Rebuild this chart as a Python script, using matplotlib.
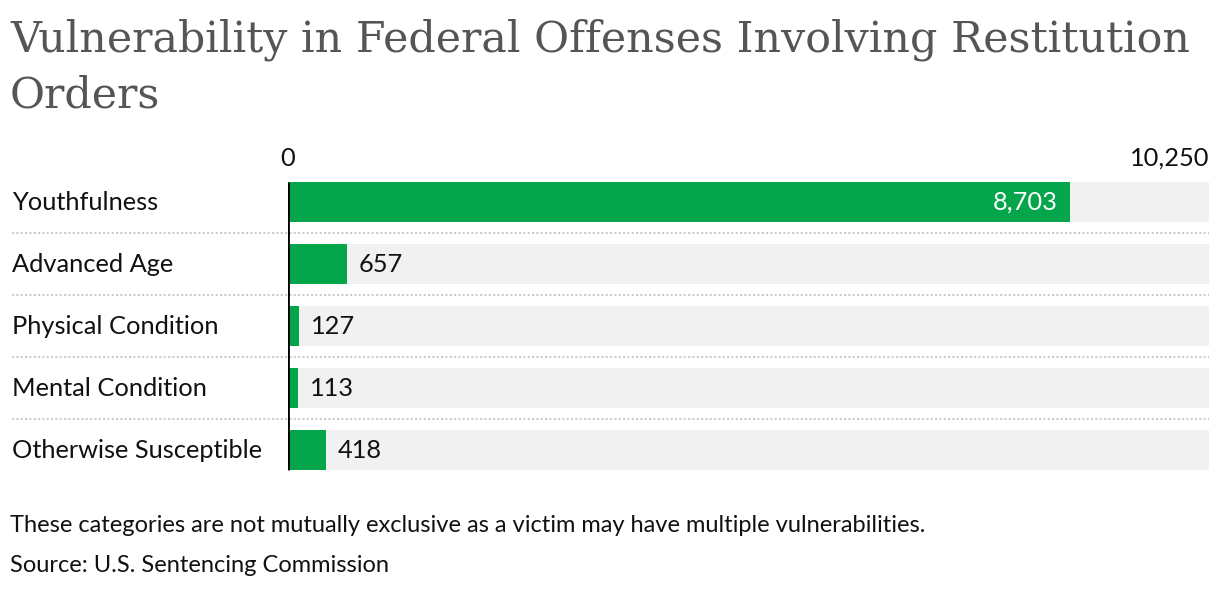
import matplotlib
matplotlib.use("Agg")
import matplotlib.pyplot as plt
import matplotlib.transforms as mtransforms

categories = ["Youthfulness", "Advanced Age", "Physical Condition", "Mental Condition", "Otherwise Susceptible"]
values = [8703, 657, 127, 113, 418]
axis_max = 10250
tick_labels = ["0", "10,250"]

W, H = 1220, 590
fig = plt.figure(figsize=(W / 100, H / 100), dpi=100)
fig.patch.set_facecolor("white")

def px(v):  # px to pt
    return v * 72 / 100

left, right = 288, 1209
top, bottom = 171, 481
ax = fig.add_axes([left / W, 1 - bottom / H, (right - left) / W, (bottom - top) / H])
ax.set_xlim(0, axis_max)
n = len(categories)
ax.set_ylim(n - 0.5, -0.5)
ax.axis("off")

bh = 40 / 62
green = "#05a54b"
bg = "#f1f1f1"
font = "Lato"
fs = px(25.4)

ys = list(range(n))
ax.barh(ys, [axis_max] * n, height=bh, color=bg, zorder=1)
ax.barh(ys, values, height=bh, color=green, zorder=2)

# zero line
ax.plot([0, 0], [-bh / 2, n - 1 + bh / 2], color="black", lw=2, zorder=4, solid_capstyle="butt")

pad = axis_max * 12 / (right - left)
for y, v, c in zip(ys, values, categories):
    lab = f"{v:,}"
    if v > axis_max * 0.5:
        ax.text(v - pad, y, lab, ha="right", va="center", color="white",
                fontsize=fs, family=font, zorder=5)
    else:
        ax.text(v + pad, y, lab, ha="left", va="center", color="#111111",
                fontsize=fs, family=font, zorder=5)
    ax.text(12 / W, y, c, transform=mtransforms.blended_transform_factory(fig.transFigure, ax.transData),
            ha="left", va="center", color="#111111", fontsize=fs, family=font)

# separators
tr = mtransforms.blended_transform_factory(fig.transFigure, ax.transData)
for i in range(n - 1):
    ax.plot([12 / W, right / W], [i + 0.5, i + 0.5], transform=tr, clip_on=False,
            color="#c8c8c8", lw=1.3, linestyle=(0, (1.2, 1.2)), zorder=3)

# axis tick labels
tick_tr = mtransforms.blended_transform_factory(ax.transData, fig.transFigure)
ax.text(0, 1 - 158 / H, tick_labels[0], transform=tick_tr, ha="center", va="center",
        fontsize=fs, family=font, color="#111111")
ax.text(axis_max, 1 - 158 / H, tick_labels[1], transform=tick_tr, ha="right", va="center",
        fontsize=fs, family=font, color="#111111")

# title (fit line width to reference)
t1 = fig.text(10 / W, 1 - 40 / H, "Vulnerability in Federal Offenses Involving Restitution",
              ha="left", va="center", fontsize=px(44), family="DejaVu Serif", color="#555555")
fig.canvas.draw()
w = t1.get_window_extent(fig.canvas.get_renderer()).width
tfs = px(44) * 1182 / w
t1.set_fontsize(tfs)
fig.text(10 / W, 1 - 95 / H, "Orders",
         ha="left", va="center", fontsize=tfs, family="DejaVu Serif", color="#555555")

ffs = px(23.6)
fig.text(10 / W, 1 - 525 / H,
         "These categories are not mutually exclusive as a victim may have multiple vulnerabilities.",
         ha="left", va="center", fontsize=ffs, family=font, color="#111111")
fig.text(10 / W, 1 - 565 / H, "Source: U.S. Sentencing Commission",
         ha="left", va="center", fontsize=ffs, family=font, color="#111111")

fig.savefig("out.png", dpi=100, facecolor="white")
